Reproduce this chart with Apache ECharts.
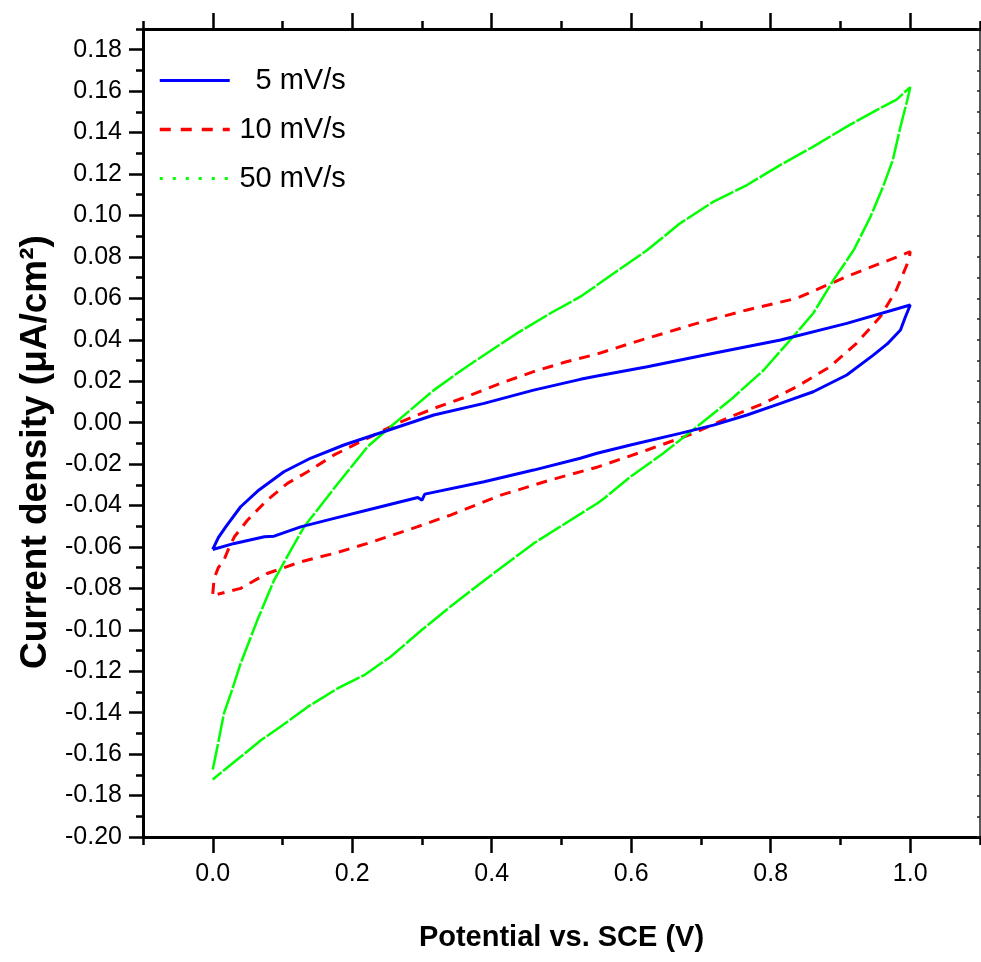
<!DOCTYPE html>
<html>
<head>
<meta charset="utf-8">
<script src="https://cdn.jsdelivr.net/npm/echarts@6/dist/echarts.min.js"></script>
<style>
html,body{margin:0;padding:0;background:#fff;}
#chart{width:981px;height:962px;}
</style>
</head>
<body>
<div id="chart"></div>
<script>
// ---- data ----
const seriesNames = ['5 mV/s', '10 mV/s', '50 mV/s'];

const cv5 = [
  [0.000,-0.0612],[0.008,-0.0555],[0.0186,-0.0503],[0.040,-0.0406],[0.0663,-0.0325],
  [0.102,-0.0237],[0.140,-0.0172],[0.188,-0.0108],[0.245,-0.0044],[0.317,0.0037],
  [0.389,0.0093],[0.460,0.0157],[0.527,0.0209],[0.551,0.0225],[0.623,0.0270],
  [0.718,0.0335],[0.814,0.0399],[0.909,0.0479],[1.000,0.0568],
  [0.993,0.0510],[0.986,0.0447],[0.967,0.0380],[0.947,0.0326],[0.909,0.0230],
  [0.861,0.0149],[0.814,0.0093],[0.766,0.0037],[0.718,-0.0012],[0.670,-0.0052],
  [0.599,-0.0108],[0.551,-0.0148],[0.527,-0.0172],[0.460,-0.0229],[0.389,-0.0285],
  [0.304,-0.0345],[0.300,-0.0374],[0.294,-0.0361],[0.222,-0.0422],[0.174,-0.0462],
  [0.126,-0.0503],[0.088,-0.0548],[0.074,-0.0551],[0.031,-0.0583],[0.000,-0.0612]
];

const cv10 = [
  [0.000,-0.0826],[0.002,-0.0752],[0.008,-0.0700],[0.016,-0.0663],[0.023,-0.0607],
  [0.031,-0.0551],[0.050,-0.0470],[0.078,-0.0374],[0.107,-0.0293],[0.136,-0.0237],
  [0.174,-0.0156],[0.207,-0.0100],[0.231,-0.0060],[0.265,-0.0003],[0.317,0.0069],
  [0.364,0.0125],[0.413,0.0190],[0.460,0.0246],[0.507,0.0294],[0.551,0.0331],
  [0.599,0.0383],[0.694,0.0479],[0.766,0.0544],[0.837,0.0600],[0.909,0.0705],
  [1.000,0.0825],
  [0.998,0.0785],[0.980,0.0640],[0.957,0.0511],[0.923,0.0383],[0.885,0.0270],
  [0.837,0.0173],[0.790,0.0093],[0.742,0.0028],[0.689,-0.0052],[0.623,-0.0132],
  [0.551,-0.0215],[0.484,-0.0277],[0.413,-0.0350],[0.341,-0.0446],[0.293,-0.0503],
  [0.222,-0.0583],[0.174,-0.0631],[0.126,-0.0672],[0.078,-0.0728],[0.040,-0.0800],
  [0.007,-0.0828]
];

const cv50 = [
  [0.000,-0.1674],[0.0067,-0.1565],[0.016,-0.1404],[0.026,-0.1307],[0.040,-0.1162],
  [0.064,-0.0953],[0.088,-0.0760],[0.112,-0.0615],[0.131,-0.0503],[0.174,-0.0317],
  [0.222,-0.0116],[0.255,-0.0020],[0.317,0.0157],[0.364,0.0270],[0.436,0.0431],
  [0.484,0.0528],[0.527,0.0608],[0.551,0.0664],[0.575,0.0721],[0.623,0.0833],
  [0.670,0.0962],[0.718,0.1067],[0.766,0.1147],[0.814,0.1244],[0.861,0.1332],
  [0.909,0.1429],[0.957,0.1518],[0.980,0.1558],[1.000,0.1619],
  [0.996,0.1560],[0.986,0.1429],[0.975,0.1268],[0.961,0.1139],[0.943,0.0994],
  [0.919,0.0833],[0.890,0.0689],[0.861,0.0528],[0.828,0.0399],[0.790,0.0254],
  [0.742,0.0109],[0.694,-0.0020],[0.646,-0.0148],[0.599,-0.0261],[0.561,-0.0366],
  [0.551,-0.0390],[0.460,-0.0583],[0.393,-0.0752],[0.340,-0.0890],[0.300,-0.1000],
  [0.255,-0.1130],[0.217,-0.1219],[0.179,-0.1283],[0.136,-0.1372],[0.097,-0.1468],
  [0.069,-0.1533],[0.040,-0.1613],[0.000,-0.1722]
];

const xMajorTicks = [0.0, 0.2, 0.4, 0.6, 0.8, 1.0];
const xMinorTicks = [-0.1, 0.1, 0.3, 0.5, 0.7, 0.9, 1.1];
const yMajorTicks = [-0.20,-0.18,-0.16,-0.14,-0.12,-0.10,-0.08,-0.06,-0.04,-0.02,
  0.00,0.02,0.04,0.06,0.08,0.10,0.12,0.14,0.16,0.18];
const yMinorTicks = [-0.19,-0.17,-0.15,-0.13,-0.11,-0.09,-0.07,-0.05,-0.03,-0.01,
  0.01,0.03,0.05,0.07,0.09,0.11,0.13,0.15,0.17,0.19];
const yAllTicks = yMajorTicks.concat(yMinorTicks);

// ---- chart ----
const FONT = '"Liberation Sans", Arial, Helvetica, sans-serif';
const X_MIN = -0.1, X_MAX = 1.1, Y_MIN = -0.2, Y_MAX = 0.19;
const black = '#000';

function tick(values, len, inside, color, width) {
  return {show: true, inside: !!inside, customValues: values, length: len,
    lineStyle: {color: color || black, width: width || 2.5}};
}
function line(show, color, width) {
  return {show: show, onZero: false, lineStyle: {color: color || black, width: width || 3}};
}
function xAxisDef(opts) {
  return Object.assign({
    type: 'value', min: X_MIN, max: X_MAX, splitLine: {show: false},
    axisLabel: {show: false}
  }, opts);
}
function yAxisDef(opts) {
  return Object.assign({
    type: 'value', min: Y_MIN, max: Y_MAX, splitLine: {show: false},
    axisLabel: {show: false}
  }, opts);
}

const chart = echarts.init(document.getElementById('chart'), null, {renderer: 'canvas'});
chart.setOption({
  animation: false,
  backgroundColor: '#fff',
  grid: {left: 143, right: 1, top: 29, bottom: 125, containLabel: false},
  legend: {
    orient: 'vertical', left: 158, top: 66, padding: 0,
    itemWidth: 70, itemHeight: 14, itemGap: 20,
    itemStyle: {opacity: 0},
    formatter: function (name) { return '{t|' + name + '}'; },
    textStyle: {
      color: black, fontFamily: FONT, fontSize: 29,
      rich: {t: {width: 111, align: 'right', fontSize: 29, fontFamily: FONT, color: black, lineHeight: 29}}
    },
    data: [
      {name: seriesNames[0], itemStyle: {opacity: 0}, lineStyle: {color: '#0000ff', width: 3, type: 'solid'}},
      {name: seriesNames[1], itemStyle: {opacity: 0}, lineStyle: {color: '#ff0000', width: 3.5, type: [11, 10]}},
      {name: seriesNames[2], itemStyle: {opacity: 0}, lineStyle: {color: '#00ff00', width: 3, type: [3, 10]}}
    ]
  },
  xAxis: [
    xAxisDef({
      position: 'bottom', axisLine: line(true),
      axisTick: tick(xMajorTicks, 16),
      axisLabel: {show: true, customValues: xMajorTicks, margin: 25, color: black,
        fontFamily: FONT, fontSize: 25, formatter: function (v) { return v.toFixed(1); }},
      name: 'Potential vs. SCE (V)', nameLocation: 'middle', nameGap: 86,
      nameTextStyle: {color: black, fontFamily: FONT, fontSize: 29, fontWeight: 'bold'}
    }),
    xAxisDef({position: 'bottom', axisLine: line(false), axisTick: tick(xMinorTicks, 8)}),
    xAxisDef({position: 'top', axisLine: line(true), axisTick: tick(xMajorTicks, 16)}),
    xAxisDef({position: 'top', axisLine: line(false), axisTick: tick(xMinorTicks, 8)})
  ],
  yAxis: [
    yAxisDef({
      position: 'left', axisLine: line(true),
      axisTick: tick(yMajorTicks, 14),
      axisLabel: {show: true, customValues: yMajorTicks, margin: 21, color: black,
        fontFamily: FONT, fontSize: 25, formatter: function (v) { return v.toFixed(2); }},
      name: 'Current density (μA/cm²)', nameLocation: 'middle', nameRotate: 90, nameGap: 86,
      nameTextStyle: {color: black, fontFamily: FONT, fontSize: 37, fontWeight: 'bold',
        padding: [0, 38, 0, 0]}
    }),
    yAxisDef({position: 'left', axisLine: line(false), axisTick: tick(yMinorTicks, 7)}),
    yAxisDef({position: 'right', axisLine: line(true, '#222', 1.5),
      axisTick: tick(yAllTicks, 3, true, '#222', 1.5)})
  ],
  series: [
    {name: seriesNames[0], type: 'line', data: cv5, xAxisIndex: 0, yAxisIndex: 0,
      symbol: 'none', showSymbol: false, smooth: false, z: 3,
      lineStyle: {color: '#0000ff', width: 3, type: 'solid'}, itemStyle: {color: '#0000ff'}},
    {name: seriesNames[1], type: 'line', data: cv10, xAxisIndex: 0, yAxisIndex: 0,
      symbol: 'none', showSymbol: false, smooth: false, z: 2,
      lineStyle: {color: '#ff0000', width: 3, type: [11, 8]}, itemStyle: {color: '#ff0000'}},
    {name: seriesNames[2], type: 'line', data: cv50, xAxisIndex: 0, yAxisIndex: 0,
      symbol: 'none', showSymbol: false, smooth: false, z: 2,
      lineStyle: {color: '#00ff00', width: 2.5, type: [26, 2]}, itemStyle: {color: '#00ff00'}}
  ]
});
</script>
</body>
</html>
